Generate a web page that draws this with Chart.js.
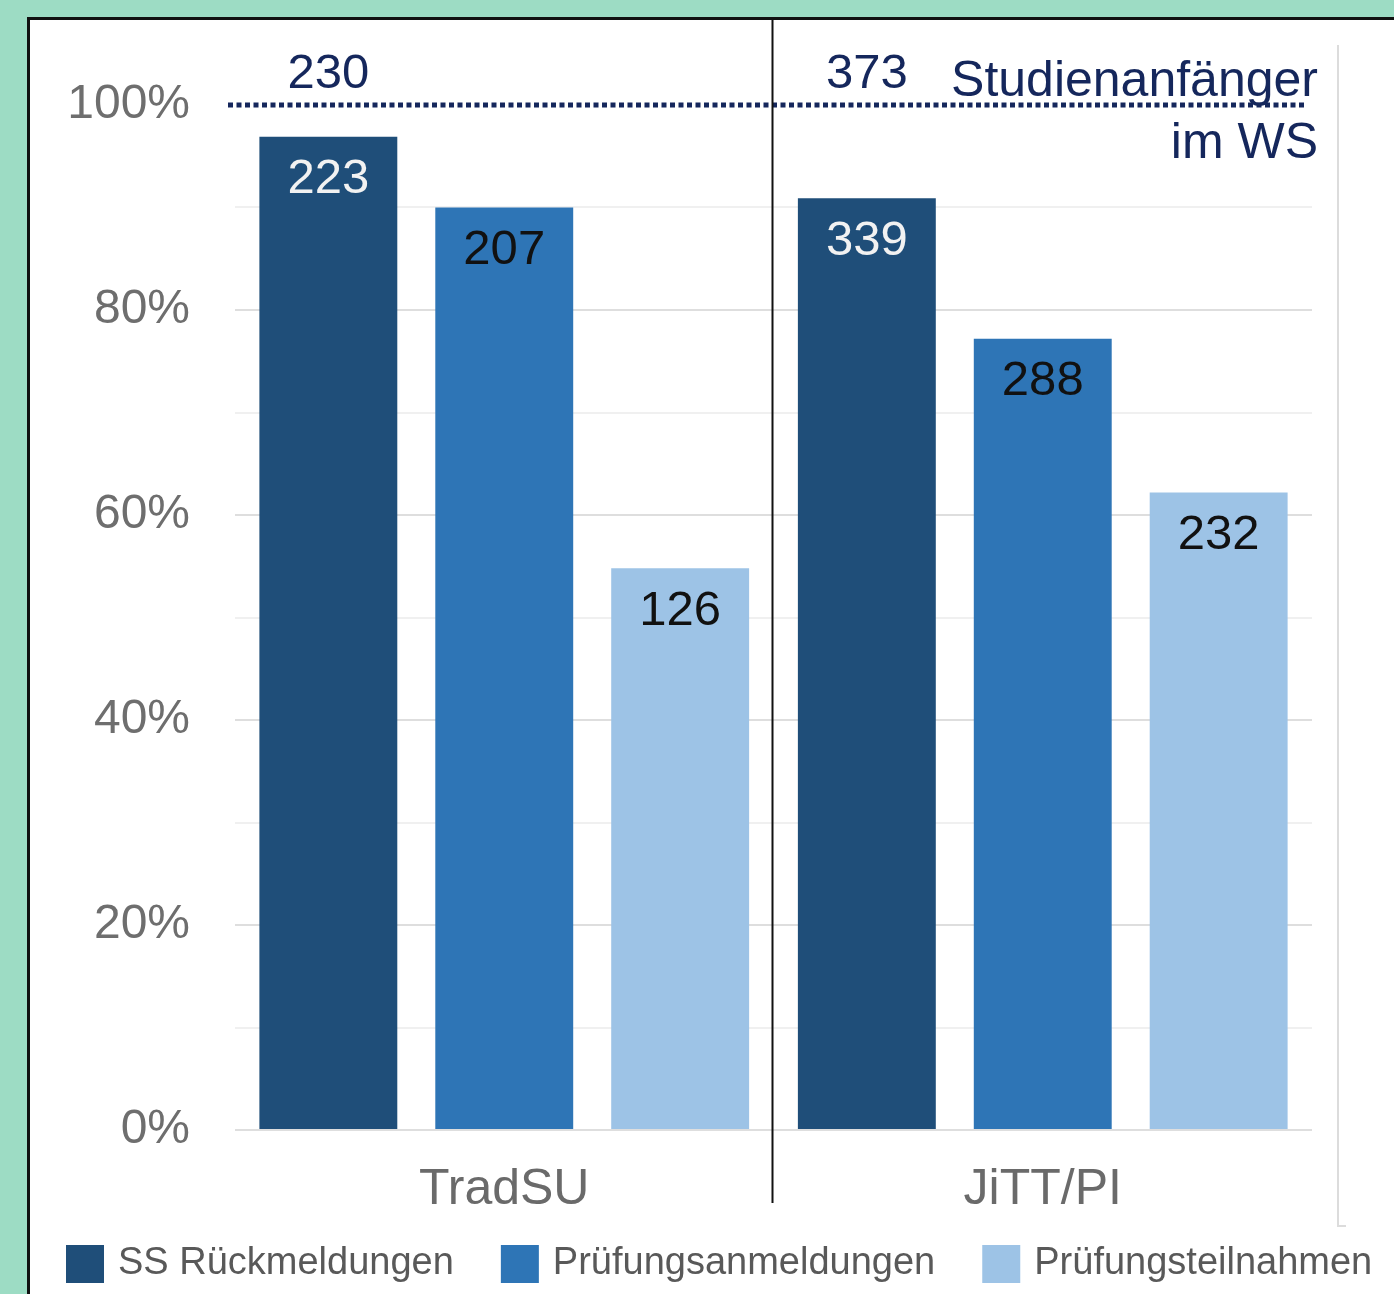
<!DOCTYPE html>
<html lang="de">
<head>
  <meta charset="UTF-8">
  <title>Studienanfänger</title>
  <script src="https://cdn.jsdelivr.net/npm/chart.js@4.4.1/dist/chart.umd.min.js"></script>
  <style>
    html, body { margin: 0; padding: 0; background: #9ddcc4; overflow: hidden; }
    #panel { position: absolute; left: 27px; top: 17px; width: 1500px; height: 1400px;
             background: #fff; border: 3px solid #111; }
    #wrap { position: absolute; left: 0; top: 0; width: 1394px; height: 1294px; }
  </style>
</head>
<body>
  <div id="panel"></div>
  <div id="wrap"><canvas id="myChart" width="1394" height="1294"></canvas></div>
  <script>
    // groups and series
    const groups = ['TradSU', 'JiTT/PI'];
    const seriesNames = ['SS Rückmeldungen', 'Prüfungsanmeldungen', 'Prüfungsteilnahmen'];
    const seriesColors = ['#1f4e79', '#2e75b6', '#9dc3e6'];
    const labelColors = ['#f2f2f2', '#111111', '#111111'];

    // share of first-year students in percent
    const ssRueck = [96.9, 90.9];
    const pruefAnm = [90.0, 77.2];
    const pruefTeil = [54.8, 62.2];

    // absolute numbers written on the bars
    const ssRueckN = [223, 339];
    const pruefAnmN = [207, 288];
    const pruefTeilN = [126, 232];

    // first-year students (100%)
    const anfaenger = [230, 373];

    const yTicks = [0, 20, 40, 60, 80, 100];

    const FONT = '"Liberation Sans", Arial, sans-serif';
    const navy = '#15275c';

    const counts = [ssRueckN, pruefAnmN, pruefTeilN];

    const decoPlugin = {
      id: 'deco',
      afterDatasetsDraw(chart) {
        const ctx = chart.ctx;
        const y = chart.scales.y, x = chart.scales.x;
        ctx.save();

        // values inside bars
        ctx.font = '49px ' + FONT;
        ctx.textAlign = 'center';
        ctx.textBaseline = 'middle';
        chart.data.datasets.forEach((ds, i) => {
          chart.getDatasetMeta(i).data.forEach((bar, j) => {
            ctx.fillStyle = labelColors[i];
            ctx.fillText(String(counts[i][j]), bar.x, bar.y + 43);
          });
        });

        // dotted 100% line
        const y100 = y.getPixelForValue(100);
        ctx.strokeStyle = navy;
        ctx.lineWidth = 5;
        ctx.setLineDash([5, 3.5]);
        ctx.beginPath();
        ctx.moveTo(228, y100);
        ctx.lineTo(1305, y100);
        ctx.stroke();
        ctx.setLineDash([]);

        // totals above line
        ctx.fillStyle = navy;
        ctx.font = '49px ' + FONT;
        const first = chart.getDatasetMeta(0).data;
        anfaenger.forEach((n, j) => {
          ctx.textAlign = 'center';
          ctx.fillText(String(n), first[j].x, y100 - 31);
        });
        ctx.font = '50px ' + FONT;
        ctx.textAlign = 'right';
        ctx.textBaseline = 'alphabetic';
        ctx.fillText('Studienanfänger', 1318, 96);
        ctx.fillText('im WS', 1318, 158);

        // separator between groups
        const sep = (x.getPixelForValue(0) + x.getPixelForValue(1)) / 2 - 1;
        ctx.strokeStyle = '#111';
        ctx.lineWidth = 2;
        ctx.beginPath();
        ctx.moveTo(sep, 20);
        ctx.lineTo(sep, 1203);
        ctx.stroke();

        // faint frame line on the right
        ctx.strokeStyle = '#dcdcdc';
        ctx.beginPath();
        ctx.moveTo(1338, 45);
        ctx.lineTo(1338, 1226);
        ctx.lineTo(1346, 1226);
        ctx.stroke();

        // legend
        ctx.font = '38px ' + FONT;
        ctx.textBaseline = 'middle';
        ctx.textAlign = 'left';
        let lx = 66;
        const ly = 1264;
        chart.data.datasets.forEach(ds => {
          ctx.fillStyle = ds.backgroundColor;
          ctx.fillRect(lx, ly - 19, 38, 38);
          ctx.fillStyle = '#595959';
          ctx.fillText(ds.label, lx + 52, ly);
          lx += 52 + ctx.measureText(ds.label).width + 47;
        });

        ctx.restore();
      }
    };

    const ctx = document.getElementById('myChart').getContext('2d');
    new Chart(ctx, {
      type: 'bar',
      data: {
        labels: groups,
        datasets: [
          { label: seriesNames[0], data: ssRueck, backgroundColor: seriesColors[0] },
          { label: seriesNames[1], data: pruefAnm, backgroundColor: seriesColors[1] },
          { label: seriesNames[2], data: pruefTeil, backgroundColor: seriesColors[2] }
        ]
      },
      options: {
        responsive: false,
        animation: false,
        categoryPercentage: 0.98,
        barPercentage: 0.784,
        layout: { padding: { left: 0, right: 82, top: 105, bottom: 80 } },
        plugins: { legend: { display: false }, tooltip: { enabled: false } },
        scales: {
          x: {
            grid: { display: false },
            border: { display: false },
            ticks: { color: '#6a6a6a', font: { family: FONT, size: 50 }, padding: 22 },
            afterFit: s => { s.height = 84; }
          },
          y: {
            min: 0,
            max: 100,
            afterBuildTicks: s => {
              const t = [];
              for (let v = 0; v <= 100; v += 10) t.push({ value: v });
              s.ticks = t;
            },
            border: { display: false },
            grid: {
              drawTicks: false,
              lineWidth: 2,
              color: c => c.tick.value === 100 ? 'rgba(0,0,0,0)'
                : (c.tick.value % 20 === 0 ? '#dedede' : '#f0f0f0')
            },
            ticks: {
              color: '#6e6e6e',
              font: { family: FONT, size: 48 },
              padding: 45,
              callback: v => yTicks.includes(v) ? v + '%' : ''
            },
            afterFit: s => { s.width = 235; }
          }
        }
      },
      plugins: [decoPlugin]
    });
  </script>
</body>
</html>
